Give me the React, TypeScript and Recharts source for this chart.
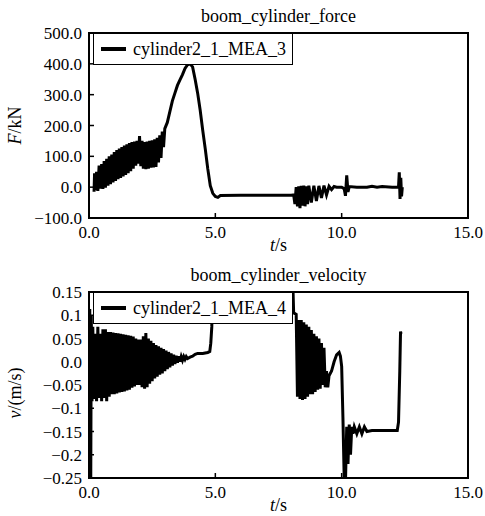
import { LineChart, Line, XAxis, YAxis, Legend, ReferenceArea, Label } from "recharts";

const FONT = "'Liberation Serif', 'Times New Roman', 'DejaVu Serif', serif";

// boom_cylinder_force, cylinder2_1_MEA_3 (kN)
const forceT = [
  0.2, 0.22, 0.25, 0.3, 0.35, 0.4, 0.45,
  0.5, 0.55, 0.6, 0.65, 0.7, 0.75, 0.8, 0.85, 0.9, 0.95, 1.0, 1.05, 1.1, 1.15, 1.2, 1.25, 1.3, 1.35, 1.4, 1.45,
  1.5, 1.55, 1.6, 1.65, 1.7, 1.75, 1.8, 1.85, 1.9, 1.95, 2.0, 2.05, 2.1, 2.15, 2.2, 2.25, 2.3, 2.35, 2.4, 2.45,
  2.5, 2.55, 2.6, 2.65, 2.7, 2.75, 2.8, 2.85, 2.9, 2.95,
  3.0, 3.1, 3.2, 3.3, 3.4, 3.5, 3.6, 3.7, 3.8, 3.9, 4.0, 4.1, 4.2, 4.3, 4.4, 4.5, 4.6, 4.7, 4.8, 4.9, 5.0, 5.1, 5.2,
  6.0, 7.0, 8.0, 8.1,
  8.15, 8.2, 8.25, 8.3, 8.35, 8.4, 8.45, 8.5, 8.55, 8.6, 8.65, 8.7, 8.8, 8.9, 9.0, 9.1, 9.2, 9.3, 9.4, 9.5, 9.6, 9.7, 9.8,
  10.0, 10.1, 10.15, 10.2, 10.25, 10.3, 10.6, 11.0, 11.2, 11.4, 11.6, 12.0, 12.25, 12.28, 12.31, 12.34, 12.37, 12.4,
];
const forceV = [
  -15, 45, -10, 50, -12, 70, -5,
  75, -6, 85, -2, 92, 5, 100, 10, 106, 15, 114, 20, 120, 26, 125, 30, 130, 35, 135, 40,
  139, 45, 143, 52, 146, 60, 148, 70, 150, 76, 166, 68, 150, 60, 146, 58, 148, 60, 150, 63,
  152, 64, 155, 66, 160, 80, 168, 95, 180, 130,
  190, 210, 245, 280, 305, 330, 348, 365, 385, 397, 400, 390, 350, 305, 250, 185, 125, 60, 5, -20, -30, -33, -27,
  -26, -26, -26, -25,
  -55, 0, -62, 3, -68, 4, -60, 5, -62, 3, -55, 5, -50, 5, -45, 4, -35, 5, -25, 3, -8, 2, 0,
  0, -5, -28, 38, -15, 2, 0, 0, 3, 0, 2, 0, 0, 48, -38, 30, -30, 0,
];

// boom_cylinder_velocity, cylinder2_1_MEA_4 (m/s)
const velT = [
  0.0, 0.03, 0.05, 0.07, 0.09, 0.12, 0.15, 0.2, 0.25, 0.3, 0.35, 0.4, 0.45, 0.5, 0.55, 0.6, 0.65, 0.7, 0.75, 0.8,
  0.85, 0.9, 0.95, 1.0, 1.05, 1.1, 1.15, 1.2, 1.25, 1.3, 1.35, 1.4, 1.45, 1.5, 1.55, 1.6, 1.65, 1.7, 1.75, 1.8,
  1.85, 1.9, 1.95, 2.0, 2.05, 2.1, 2.15, 2.2, 2.25, 2.3, 2.35, 2.4, 2.45, 2.5, 2.55, 2.6, 2.65, 2.7, 2.75, 2.8,
  2.85, 2.9, 2.95, 3.0, 3.05, 3.1, 3.15, 3.2, 3.25, 3.3, 3.35, 3.4, 3.45, 3.5, 3.55, 3.6, 3.65, 3.7, 3.75, 3.8,
  3.85, 3.9, 4.0, 4.1, 4.2, 4.3, 4.5, 4.7, 4.78, 4.82, 4.86, 4.9, 6.0, 8.05, 8.1, 8.2,
  8.25, 8.3, 8.35, 8.4, 8.45, 8.5, 8.55, 8.6, 8.65, 8.7, 8.75, 8.8, 8.85, 8.9, 8.95, 9.0, 9.05, 9.1, 9.15, 9.2,
  9.25, 9.3, 9.35, 9.4, 9.45, 9.5, 9.6, 9.7, 9.8, 9.9, 9.95, 10.0, 10.05, 10.1, 10.15, 10.2, 10.25, 10.3, 10.35, 10.4,
  10.45, 10.5, 10.6, 10.7, 10.8, 10.9, 11.0, 11.2, 12.0, 12.2, 12.25, 12.3, 12.33, 12.35,
];
const velV = [
  0.11, 0.11, -0.25, -0.25, 0.1, -0.085, 0.075, -0.08, 0.06, -0.085, 0.075, -0.078, 0.06, -0.085, 0.07, -0.078, 0.07, -0.085, 0.064, -0.075,
  0.064, -0.07, 0.063, -0.07, 0.062, -0.068, 0.061, -0.066, 0.06, -0.065, 0.059, -0.064, 0.058, -0.062, 0.057, -0.06, 0.056, -0.056, 0.054, -0.053,
  0.05, -0.05, 0.048, -0.05, 0.048, -0.055, 0.055, -0.058, 0.062, -0.055, 0.05, -0.047, 0.045, -0.042, 0.04, -0.036, 0.036, -0.032, 0.033, -0.028,
  0.03, -0.025, 0.027, -0.02, 0.024, -0.016, 0.021, -0.012, 0.018, -0.008, 0.015, -0.005, 0.013, -0.002, 0.012, 0.0, 0.011, 0.003, 0.011, 0.005,
  0.011, 0.007, 0.01, 0.012, 0.016, 0.018, 0.018, 0.02, 0.022, 0.04, 0.075, 0.2, 0.2, 0.2, 0.105, 0.102,
  -0.075, 0.09, -0.08, 0.09, -0.082, 0.085, -0.08, 0.08, -0.075, 0.075, -0.07, 0.068, -0.07, 0.06, -0.065, 0.055, -0.06, 0.05, -0.058, 0.04,
  -0.05, 0.03, -0.055, -0.02, -0.055, -0.03, -0.02, 0.0, 0.015, 0.02, 0.012, -0.01, -0.12, -0.25, -0.26, -0.14, -0.22, -0.135, -0.2, -0.14,
  -0.155, -0.14, -0.155, -0.14, -0.155, -0.14, -0.15, -0.148, -0.148, -0.148, -0.13, -0.02, 0.065, 0.06,
];

const xTicks = [0, 5, 10, 15];
const xTickLabels = ["0.0", "5.0", "10.0", "15.0"];
const forceTicks = [-100, 0, 100, 200, 300, 400, 500];
const forceTickLabels = ["\u2212100.0", "0.0", "100.0", "200.0", "300.0", "400.0", "500.0"];
const velTicks = [-0.25, -0.2, -0.15, -0.1, -0.05, 0, 0.05, 0.1, 0.15];
const velTickLabels = ["\u22120.25", "\u22120.2", "\u22120.15", "\u22120.1", "\u22120.05", "0.0", "0.05", "0.1", "0.15"];

const forceData = forceT.map((t, i) => ({ t, v: forceV[i] }));
const velData = velT.map((t, i) => ({ t, v: velV[i] }));

const tickStyle = { fontFamily: FONT, fontSize: 17, fill: "#000", style: { fontFamily: FONT } };

function LegendBox({ payload }: any) {
  const item = payload && payload[0];
  return (
    <div
      style={{
        boxSizing: "border-box",
        width: 200,
        height: 32,
        border: "1.5px solid #000",
        background: "#fff",
        display: "flex",
        alignItems: "center",
        paddingLeft: 7,
        fontFamily: FONT,
        fontSize: 18,
        color: "#000",
      }}
    >
      <span style={{ display: "inline-block", width: 25, height: 4, background: "#000", marginRight: 7 }} />
      <span>{item ? item.value : ""}</span>
    </div>
  );
}

function XTitle({ viewBox }: any) {
  const cx = viewBox.x + viewBox.width / 2;
  return (
    <text x={cx} y={viewBox.y + 33} textAnchor="middle" fontSize={18} fill="#000" style={{ fontFamily: FONT }}>
      <tspan fontStyle="italic">t</tspan>
      <tspan>/s</tspan>
    </text>
  );
}

function makeYTitle(sym: string, unit: string, shift: number) {
  return ({ viewBox }: any) => {
    const cx = viewBox.x + viewBox.width - 74;
    const cy = viewBox.y + viewBox.height / 2 + shift;
    return (
      <text
        x={cx}
        y={cy}
        transform={`rotate(-90 ${cx} ${cy})`}
        textAnchor="middle"
        dominantBaseline="central"
        fontSize={18}
        fill="#000"
        style={{ fontFamily: FONT }}
      >
        <tspan fontStyle="italic">{sym}</tspan>
        <tspan>{unit}</tspan>
      </text>
    );
  };
}

interface PanelProps {
  title: string;
  name: string;
  data: { t: number; v: number }[];
  yTicks: number[];
  yLabels: string[];
  yDomain: [number, number];
  yTitle: any;
  height: number;
  bottom: number;
}

function Panel({ title, name, data, yTicks, yLabels, yDomain, yTitle, height, bottom }: PanelProps) {
  return (
    <LineChart
      width={485}
      height={height}
      data={data}
      margin={{ top: 33, right: 17, bottom, left: 88 }}
      style={{ fontFamily: FONT }}
    >
      <XAxis
        dataKey="t"
        type="number"
        domain={[0, 15]}
        ticks={xTicks}
        allowDataOverflow
        height={1}
        axisLine={false}
        tickSize={-5}
        tickMargin={13}
        tickLine={{ stroke: "#000", strokeWidth: 1.5 }}
        tick={tickStyle}
        tickFormatter={(v: number) => xTickLabels[xTicks.indexOf(v)]}
        interval={0}
      >
        <Label content={XTitle} />
      </XAxis>
      <YAxis
        type="number"
        domain={yDomain}
        ticks={yTicks}
        allowDataOverflow
        width={1}
        axisLine={false}
        tickSize={-5}
        tickMargin={12}
        tickLine={{ stroke: "#000", strokeWidth: 1.5 }}
        tick={tickStyle}
        tickFormatter={(v: number) => yLabels[yTicks.indexOf(v)]}
        interval={0}
      >
        <Label content={yTitle} />
      </YAxis>
      <Line
        type="linear"
        dataKey="v"
        name={name}
        stroke="#000"
        strokeWidth={3}
        dot={false}
        isAnimationActive={false}
      />
      <ReferenceArea
        x1={0}
        x2={15}
        y1={yDomain[0]}
        y2={yDomain[1]}
        fill="none"
        fillOpacity={0}
        stroke="#000"
        strokeWidth={2}
        ifOverflow="visible"
      >
        <Label value={title} position="top" offset={11} fontSize={18} fill="#000" style={{ fontFamily: FONT }} />
      </ReferenceArea>
      <Legend
        layout="horizontal"
        verticalAlign="middle"
        align="center"
        content={LegendBox}
        wrapperStyle={{ top: 33, left: 93, width: "auto", height: "auto" }}
      />
    </LineChart>
  );
}

export default function App() {
  return (
    <div
      style={{
        position: "absolute",
        left: 0,
        top: 0,
        width: 485,
        height: 516,
        background: "#fff",
        fontFamily: FONT,
      }}
    >
      <Panel
        title="boom_cylinder_force"
        name="cylinder2_1_MEA_3"
        data={forceData}
        yTicks={forceTicks}
        yLabels={forceTickLabels}
        yDomain={[-100, 500]}
        yTitle={makeYTitle("F", "/kN", 0)}
        height={259}
        bottom={40}
      />
      <Panel
        title="boom_cylinder_velocity"
        name="cylinder2_1_MEA_4"
        data={velData}
        yTicks={velTicks}
        yLabels={velTickLabels}
        yDomain={[-0.25, 0.15]}
        yTitle={makeYTitle("v", "/(m/s)", 8)}
        height={257}
        bottom={37}
      />
    </div>
  );
}
